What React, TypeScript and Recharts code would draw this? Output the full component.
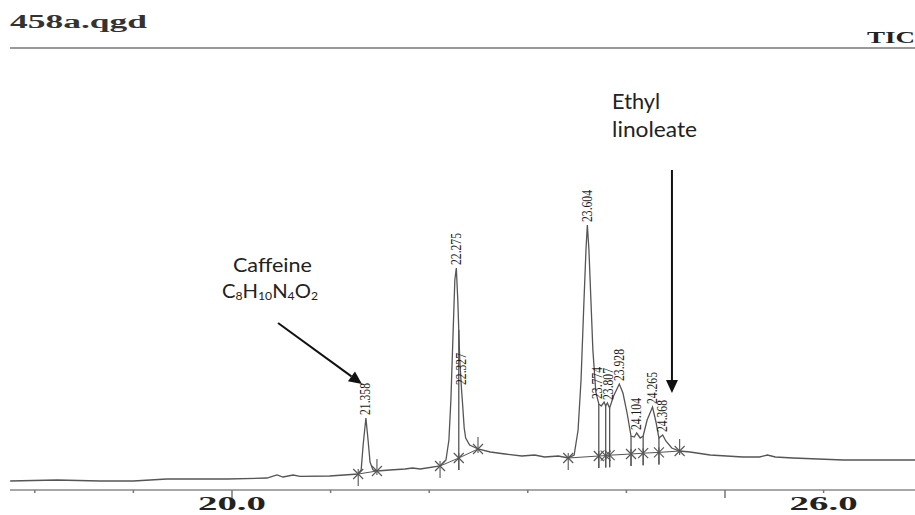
import React from "react";
import { ComposedChart, Line, XAxis, YAxis, ReferenceLine, ReferenceDot } from "recharts";

// Total ion chromatogram trace: [retention time (min), relative intensity]
const tracePoints: [number, number][] = [
  [17.75, 2.25], [18.225, 2.5], [18.66, 2.25], [19.0, 2.25], [19.34, 2.75], [19.95, 2.75],
  [20.355, 3.0], [20.456, 3.75], [20.517, 3.25], [20.62, 3.75], [20.69, 3.4], [20.99, 3.5],
  [21.28, 4.0], [21.31, 5.0], [21.33, 11.25], [21.358, 18.0], [21.38, 12.5], [21.4, 7.0],
  [21.43, 5.0], [21.47, 4.75], [21.6, 5.0], [21.755, 5.25], [21.83, 5.5], [21.91, 5.25],
  [22.11, 6.0], [22.17, 7.5], [22.2, 12.5], [22.22, 22.5], [22.24, 37.5], [22.26, 52.5],
  [22.275, 55.5], [22.29, 47.5], [22.31, 32.5], [22.327, 25.5], [22.34, 21.0], [22.355, 15.5],
  [22.37, 13.0], [22.41, 11.25], [22.495, 10.25], [22.62, 9.5], [22.77, 9.0], [22.94, 8.5],
  [23.07, 8.75], [23.17, 8.25], [23.31, 8.5], [23.41, 8.0], [23.47, 8.75], [23.51, 15.0],
  [23.54, 27.5], [23.57, 47.5], [23.59, 60.0], [23.604, 66.25], [23.62, 60.0], [23.64, 47.5],
  [23.66, 35.0], [23.69, 24.5], [23.72, 21.5], [23.745, 21.0], [23.774, 22.0], [23.79, 21.0],
  [23.807, 21.75], [23.83, 20.5], [23.87, 23.5], [23.928, 26.5], [23.965, 24.25], [24.005, 19.5],
  [24.047, 13.5], [24.08, 13.25], [24.104, 14.25], [24.14, 13.0], [24.17, 13.5], [24.21, 17.5],
  [24.265, 20.75], [24.3, 17.0], [24.33, 13.0], [24.368, 13.75], [24.4, 12.25], [24.46, 10.5],
  [24.54, 9.75], [24.645, 9.5], [24.85, 8.75], [25.18, 8.25], [25.35, 8.25], [25.43, 8.75],
  [25.51, 8.25], [25.69, 8.0], [26.2, 7.5], [26.57, 7.5], [26.927, 7.5],
];

// Labelled peaks: retention time and apex intensity
const peakTimes = [21.358, 22.275, 22.327, 23.604, 23.774, 23.807, 23.928, 24.104, 24.265, 24.368];
const peakApex = [18.0, 55.5, 25.5, 66.25, 22.0, 21.75, 26.5, 14.25, 20.75, 13.75];

// Integration marks: time, baseline intensity, kind, trace value for drop line (null = none)
const markTimes = [21.28, 21.47, 22.11, 22.3, 22.495, 23.41, 23.72, 23.79, 23.83, 24.047, 24.17, 24.33, 24.54];
const markBase = [4.0, 4.75, 6.0, 8.0, 10.25, 8.0, 8.5, 8.6, 8.7, 9.0, 9.2, 9.4, 9.75];
const markKind = ["up", "down", "up", "mid", "down", "up", "mid", "mid", "mid", "mid", "mid", "mid", "down"];
const markDropTop: (number | null)[] = [null, null, null, 40, null, null, 21.5, 21.0, 20.5, 13.5, 13.5, 13.0, null];
// groups of integration baseline segments
const baselineGroups = [[0, 1], [2, 3, 4], [5, 6, 7, 8, 9, 10, 11, 12]];

const xTicks = [18, 19, 20, 21, 22, 23, 24, 25, 26];
const xTickLabels: Record<number, string> = { 20: "20.0", 26: "26.0" };
const majorTicks = [20, 25];

const title = "458a.qgd";
const titleRight = "TIC";

// Annotations
const caffeineName = "Caffeine";
const caffeineAt = { t: 20.41, v: 54.5 };
const caffeineFormulaAt = { t: 20.385, v: 48 };
const caffeineArrow = [{ x: 20.467, y: 41.75 }, { x: 21.318, y: 26.5 }];
const ethylLines = ["Ethyl", "linoleate"];
const ethylAt = [{ t: 23.855, v: 95.25 }, { t: 23.855, v: 88.25 }];
const ethylArrow = [{ x: 24.462, y: 80 }, { x: 24.462, y: 24.25 }];

const traceData = tracePoints.map(([t, v]) => ({ t, v }));
const baselineData: { t: number; v: number | null }[] = [];
baselineGroups.forEach((g, gi) => {
  g.forEach((i) => baselineData.push({ t: markTimes[i], v: markBase[i] }));
  if (gi < baselineGroups.length - 1) baselineData.push({ t: markTimes[g[g.length - 1]] + 0.005, v: null });
});

const INK = "#555";

const XTick = (props: any) => {
  const { x, y, payload } = props;
  const val = payload.value;
  const major = majorTicks.includes(val);
  const lab = xTickLabels[val];
  return (
    <g>
      <line x1={x} x2={x} y1={y} y2={y + (major ? 8 : 3)} stroke="#777" strokeWidth={1.5} />
      {lab && (
        <text x={x} y={y + 20} textAnchor="middle" fontFamily="'Liberation Serif', serif" fontWeight="bold"
          fontSize={18} fill="#222" textLength={68} lengthAdjust="spacingAndGlyphs">{lab}</text>
      )}
    </g>
  );
};

const Arrow = (p: any) => {
  const { x1, y1, x2, y2 } = p;
  const dx = x2 - x1, dy = y2 - y1;
  const len = Math.sqrt(dx * dx + dy * dy) || 1;
  const ux = dx / len, uy = dy / len;
  const hl = 13, hw = 6;
  const bx = x2 - ux * hl, by = y2 - uy * hl;
  return (
    <g>
      <line x1={x1} y1={y1} x2={bx} y2={by} stroke="#111" strokeWidth={2} />
      <polygon points={`${x2},${y2} ${bx - uy * hw},${by + ux * hw} ${bx + uy * hw},${by - ux * hw}`} fill="#111" />
    </g>
  );
};

const DropLine = (p: any) => {
  const { x1, y1, x2, y2 } = p;
  return <line x1={x1} y1={y1} x2={x2} y2={y2 + 12} stroke={INK} strokeWidth={1.3} />;
};

const Marker = (kind: string) => (p: any) => {
  const { cx, cy } = p;
  const s = 5;
  const y1 = kind === "down" ? cy - 12 : cy - 5;
  const y2 = kind === "down" ? cy + 4 : cy + 12;
  return (
    <g stroke={INK} strokeWidth={1.1}>
      <line x1={cx} x2={cx} y1={y1} y2={y2} />
      <line x1={cx - s} x2={cx + s} y1={cy - s} y2={cy + s} />
      <line x1={cx - s} x2={cx + s} y1={cy + s} y2={cy - s} />
    </g>
  );
};

const labelShift: Record<string, number> = { "23.774": -7, "23.807": 1 };

const PeakLabel = (text: string) => (p: any) => {
  const x = p.cx + (labelShift[text] || 0);
  const y = p.cy - 3;
  return (
    <text x={x} y={y} transform={`rotate(-90 ${x} ${y})`} textAnchor="start" dominantBaseline="central"
      fontFamily="'Liberation Serif', serif" fontSize={14} fill="#1a1a1a" textLength={32}
      lengthAdjust="spacingAndGlyphs">{text}</text>
  );
};

const NoteText = (text: React.ReactNode, anchor: string, size: number, len: number) => (p: any) => (
  <text x={p.cx} y={p.cy} textAnchor={anchor} fontFamily="Lato, 'Noto Sans', sans-serif" fontSize={size}
    fill="#222" textLength={len} lengthAdjust="spacingAndGlyphs">{text}</text>
);

const formula = (
  <>
    <tspan>C</tspan><tspan fontSize={12} dy={2}>8</tspan>
    <tspan dy={-2}>H</tspan><tspan fontSize={12} dy={2}>10</tspan>
    <tspan dy={-2}>N</tspan><tspan fontSize={12} dy={2}>4</tspan>
    <tspan dy={-2}>O</tspan><tspan fontSize={12} dy={2}>2</tspan>
  </>
);

export default function App() {
  return (
    <div style={{ position: "absolute", left: 0, top: 0, width: 915, height: 515, background: "#fff", overflow: "hidden" }}>
      <div style={{ position: "absolute", left: 0, top: 0 }}>
        <ComposedChart width={915} height={515} margin={{ top: 90, right: 0, bottom: 0, left: 10 }}>
          <XAxis type="number" dataKey="t" domain={[17.7485, 26.927]} ticks={xTicks} interval={0}
            allowDataOverflow height={25} tickLine={false} tickSize={0} tickMargin={0}
            axisLine={{ stroke: "#8a8a8a", strokeWidth: 1.5 }} tick={<XTick />} />
          <YAxis type="number" dataKey="v" domain={[0, 100]} hide allowDataOverflow />
          <Line data={traceData} dataKey="v" type="linear" stroke={INK} strokeWidth={1.3} dot={false}
            activeDot={false} isAnimationActive={false} />
          <Line data={baselineData} dataKey="v" type="linear" stroke={INK} strokeWidth={1} dot={false}
            activeDot={false} connectNulls={false} isAnimationActive={false} />
          {markTimes.map((t, i) =>
            markDropTop[i] != null ? (
              <ReferenceLine key={"d" + i} segment={[{ x: t, y: markDropTop[i] as number }, { x: t, y: markBase[i] }]}
                ifOverflow="visible" shape={DropLine} />
            ) : null
          )}
          {markTimes.map((t, i) => (
            <ReferenceDot key={"m" + i} x={t} y={markBase[i]} r={0} ifOverflow="visible" shape={Marker(markKind[i])} />
          ))}
          {peakTimes.map((t, i) => (
            <ReferenceDot key={"p" + i} x={t} y={peakApex[i]} r={0} ifOverflow="visible" shape={PeakLabel(t.toFixed(3))} />
          ))}
          <ReferenceDot x={caffeineAt.t} y={caffeineAt.v} r={0} ifOverflow="visible" shape={NoteText(caffeineName, "middle", 20, 79)} />
          <ReferenceDot x={caffeineFormulaAt.t} y={caffeineFormulaAt.v} r={0} ifOverflow="visible" shape={NoteText(formula, "middle", 20, 96)} />
          <ReferenceLine segment={caffeineArrow} ifOverflow="visible" shape={Arrow} />
          <ReferenceDot x={ethylAt[0].t} y={ethylAt[0].v} r={0} ifOverflow="visible" shape={NoteText(ethylLines[0], "start", 21, 48)} />
          <ReferenceDot x={ethylAt[1].t} y={ethylAt[1].v} r={0} ifOverflow="visible" shape={NoteText(ethylLines[1], "start", 21, 85)} />
          <ReferenceLine segment={ethylArrow} ifOverflow="visible" shape={Arrow} />
        </ComposedChart>
      </div>
      <svg width={915} height={60} style={{ position: "absolute", left: 0, top: 0 }}>
        <text x={10} y={28} fontFamily="'Liberation Serif', serif" fontWeight="bold" fontSize={18} fill="#333"
          textLength={137} lengthAdjust="spacingAndGlyphs">{title}</text>
        <line x1={10} x2={915} y1={48} y2={48} stroke="#999" strokeWidth={2} />
        <text x={867} y={43} fontFamily="'Liberation Serif', serif" fontWeight="bold" fontSize={17} fill="#222"
          textLength={48} lengthAdjust="spacingAndGlyphs">{titleRight}</text>
      </svg>
    </div>
  );
}
